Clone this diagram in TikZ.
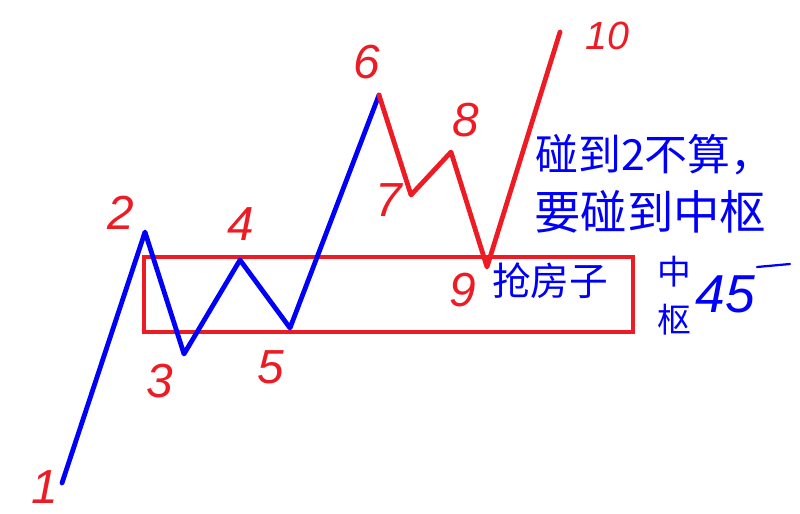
\documentclass[tikz,border=0pt]{standalone}
\usepackage{fontspec}
\setmainfont{Liberation Sans}
\newfontfamily\cjk{Noto Sans CJK SC}
\definecolor{penred}{RGB}{237,28,36}
\definecolor{penblue}{RGB}{0,0,250}
\tikzset{
  digit/.style={text=penred,inner sep=0pt,font=\fontsize{34}{34}\selectfont\itshape},
  note/.style={text=penblue,inner sep=0pt,anchor=west},
  blueline/.style={draw=penblue,line width=3.4pt},
  redline/.style={draw=penred,line width=3.4pt}
}

\begin{document}
\begin{tikzpicture}[x=0.025cm,y=-0.025cm,line join=round,line cap=round]
\useasboundingbox (0,0) rectangle (800,513);
% ---- turning points ----
\coordinate (p1) at (62,483);
\coordinate (p2) at (145,232);
\coordinate (p3) at (184,354);
\coordinate (p4) at (240,260);
\coordinate (p5) at (290,328);
\coordinate (p6) at (379,95);
\coordinate (p7) at (411,195);
\coordinate (p8) at (451,152);
\coordinate (p9) at (487,267);
\coordinate (p10) at (560,32);
% ---- zhongshu box ----
\draw[penred,line width=3.1pt,line join=miter] (144,257) rectangle (633,332);
% ---- the wave ----
\draw[blueline] (p1) -- (p2) -- (p3) -- (p4) -- (p5) -- (p6);
\draw[redline] (p6) -- (p7) -- (p8) -- (p9) -- (p10);
% ---- point labels ----
\node[digit] (l1) at (45,487) {1};
\node[digit] (l2) at (121,213) {2};
\node[digit] (l3) at (160,381) {3};
\node[digit] (l4) at (241,224) {4};
\node[digit] (l5) at (271,367) {5};
\node[digit] (l6) at (367,62) {6};
\node[digit] (l7) at (389,200) {7};
\node[digit] (l8) at (466,120) {8};
\node[digit] (l9) at (463,290) {9};
\node[digit,font=\fontsize{28}{28}\selectfont\itshape] (l10) at (607,36) {10};
% ---- notes ----
\node[note,font=\cjk\fontsize{30.5}{30.5}\selectfont] (rule1) at (535,155) {碰到2不算，};
\node[note,font=\cjk\fontsize{33}{33}\selectfont] (rule2) at (534,212) {要碰到中枢};
\node[note,font=\cjk\fontsize{27.5}{27.5}\selectfont] (grab) at (492,281) {抢房子};
\node[text=penblue,inner sep=0pt,font=\cjk\fontsize{24}{24}\selectfont] (zs1) at (674,272) {中};
\node[text=penblue,inner sep=0pt,font=\cjk\fontsize{24}{24}\selectfont] (zs2) at (674,320) {枢};
\node[text=penblue,inner sep=0pt,font=\fontsize{38}{38}\selectfont\itshape] (deg) at (725,294) {45};
\draw[penblue,line width=1.6pt] (757,267) -- (790,264);
\end{tikzpicture}
\end{document}
